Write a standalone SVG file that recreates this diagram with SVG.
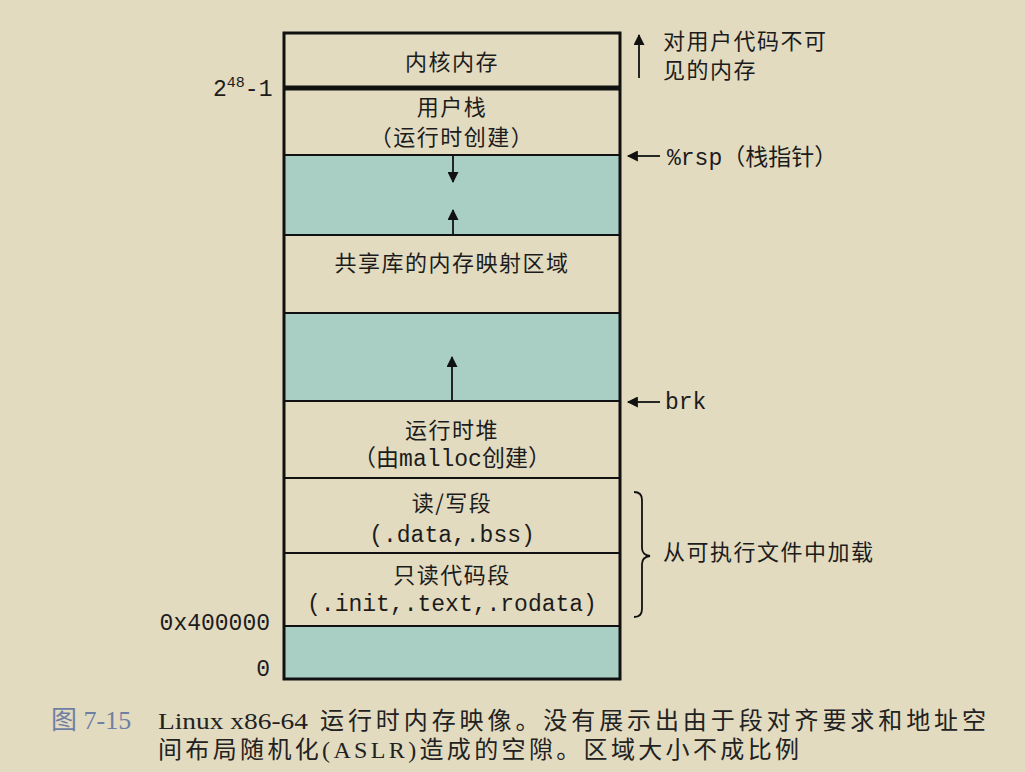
<svg xmlns="http://www.w3.org/2000/svg" width="1025" height="772" viewBox="0 0 1025 772">
<defs>
<style>
.cjk{font-family:"Noto Sans CJK SC","Noto Sans",sans-serif;font-size:22px;fill:#1c1c1c;letter-spacing:1.5px}
.mono{font-family:"Liberation Mono","DejaVu Sans Mono",monospace;font-size:23px;fill:#1c1c1c}
.mix{font-family:"Liberation Mono","Noto Sans CJK SC",monospace;font-size:23px;fill:#1c1c1c}
.box{fill:#e2dbc0;stroke:#111;stroke-width:2}
.gap{fill:#a9cfc4;stroke:#111;stroke-width:2}
.ln{stroke:#111;stroke-width:1.8;fill:none}
.cap{font-family:"Liberation Serif","Noto Sans CJK SC",serif;font-size:24px;fill:#222}
</style>
<marker id="ahs" viewBox="0 0 10 10" refX="9" refY="5" markerWidth="12" markerHeight="11" orient="auto" markerUnits="userSpaceOnUse">
<path d="M0,0 L10,5 L0,10 z" fill="#111"/>
</marker>
</defs>
<rect x="0" y="0" width="1025" height="772" fill="#e2dbc0"/>

<g id="kernel">
<rect class="box" x="284" y="33" width="336" height="55"/>
<text class="cjk" x="452" y="70" text-anchor="middle">内核内存</text>
</g>
<g id="user-stack">
<rect class="box" x="284" y="88" width="336" height="67"/>
<text class="cjk" x="452" y="115" text-anchor="middle" font-size="21" letter-spacing="2.5">用户栈</text>
<text class="cjk" x="452" y="145" text-anchor="middle" font-size="21" letter-spacing="2">（运行时创建）</text>
</g>
<g id="gap1">
<rect class="gap" x="284" y="155" width="336" height="80"/>
</g>
<g id="shared-lib">
<rect class="box" x="284" y="235" width="336" height="78"/>
<text class="cjk" x="452" y="271" text-anchor="middle">共享库的内存映射区域</text>
</g>
<g id="gap2">
<rect class="gap" x="284" y="313" width="336" height="88"/>
</g>
<g id="heap">
<rect class="box" x="284" y="401" width="336" height="77"/>
<text class="cjk" x="452" y="438" text-anchor="middle">运行时堆</text>
<text class="mix" x="452" y="466" text-anchor="middle">（由malloc创建）</text>
</g>
<g id="rw-seg">
<rect class="box" x="284" y="478" width="336" height="75"/>
<text class="cjk" x="452" y="511" text-anchor="middle">读/写段</text>
<text class="mono" x="452" y="542" text-anchor="middle" font-size="24">(.data,.bss)</text>
</g>
<g id="ro-seg">
<rect class="box" x="284" y="553" width="336" height="73"/>
<text class="cjk" x="452" y="583" text-anchor="middle">只读代码段</text>
<text class="mono" x="452" y="611" text-anchor="middle" font-size="24">(.init,.text,.rodata)</text>
</g>
<g id="gap3">
<rect class="gap" x="284" y="626" width="336" height="53"/>
</g>
<rect x="284" y="33" width="336" height="646" fill="none" stroke="#111" stroke-width="3"/>
<line x1="284" y1="88" x2="620" y2="88" stroke="#111" stroke-width="5"/>

<g id="address-labels">
<text class="mono" x="213" y="96">2<tspan font-size="15" dy="-9">48</tspan><tspan dy="9">-1</tspan></text>
<text class="mono" x="270" y="630" text-anchor="end">0x400000</text>
<text class="mono" x="270" y="676" text-anchor="end">0</text>
</g>

<g id="annotations">
<text class="cjk" x="663" y="49">对用户代码不可</text>
<text class="cjk" x="663" y="78">见的内存</text>
<text class="mix" x="667" y="165">%rsp（栈指针）</text>
<text class="mono" x="665" y="409">brk</text>
<text class="cjk" x="663" y="560">从可执行文件中加载</text>
</g>

<g id="connectors">
<line class="ln" x1="639" y1="78" x2="639" y2="35" marker-end="url(#ahs)"/>
<line class="ln" x1="660" y1="156" x2="628" y2="156" marker-end="url(#ahs)"/>
<line class="ln" x1="660" y1="402" x2="628" y2="402" marker-end="url(#ahs)"/>
<line class="ln" x1="453" y1="156" x2="453" y2="182" marker-end="url(#ahs)"/>
<line class="ln" x1="453" y1="235" x2="453" y2="210" marker-end="url(#ahs)"/>
<line class="ln" x1="452" y1="401" x2="452" y2="357" marker-end="url(#ahs)"/>
<path class="ln" d="M634,492 Q642,492 642,500 L642,548 Q642,555 650,556 Q642,557 642,564 L642,609 Q642,617 634,617"/>
</g>

<g id="caption">
<text x="51" y="729" font-family="Liberation Serif,'Noto Sans CJK SC',serif" font-size="26" fill="#6f7fa3">图 7-15</text>
<text class="cap" x="158" y="729" font-size="27" textLength="150" lengthAdjust="spacingAndGlyphs">Linux x86-64</text>
<text class="cap" x="320" y="729" textLength="666" lengthAdjust="spacing">运行时内存映像。没有展示出由于段对齐要求和地址空</text>
<text class="cap" x="158" y="758" textLength="641" lengthAdjust="spacing">间布局随机化(ASLR)造成的空隙。区域大小不成比例</text>
</g>
</svg>
